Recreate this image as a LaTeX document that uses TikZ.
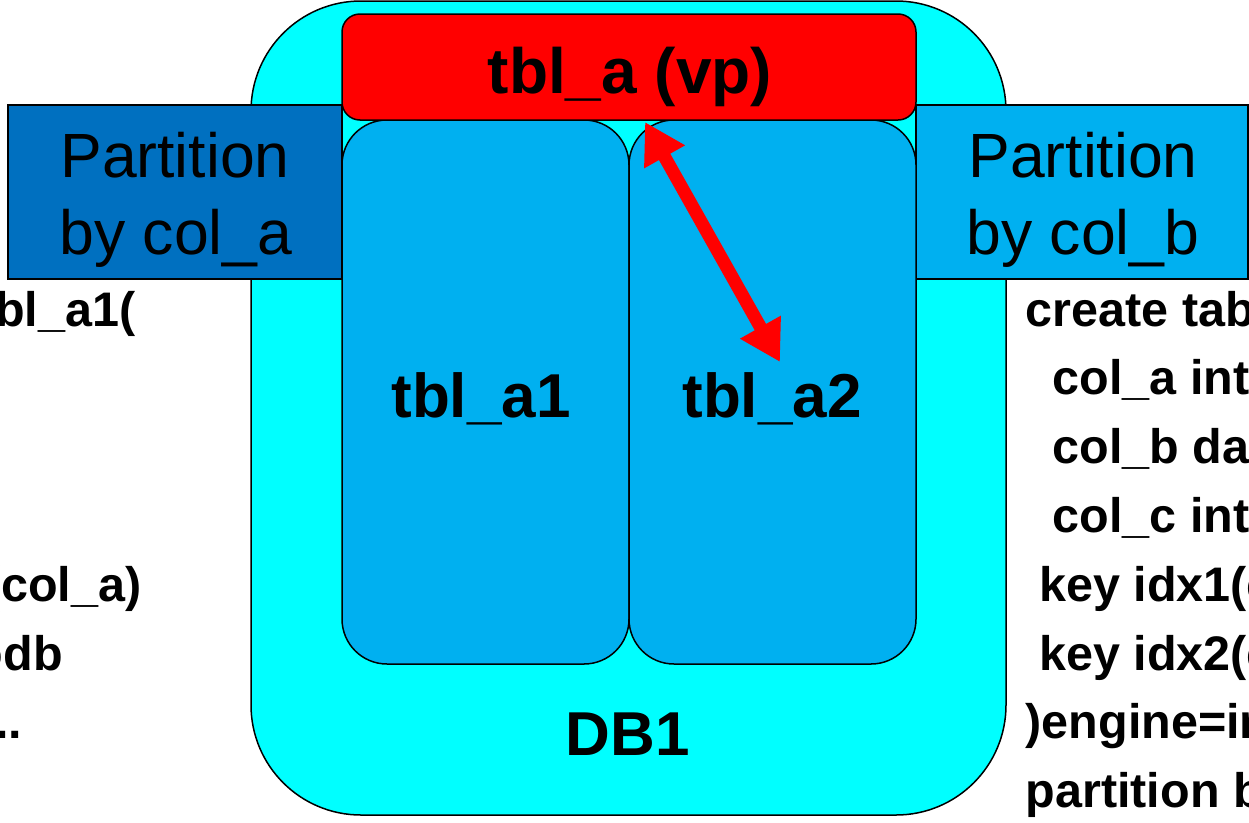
\documentclass[tikz,border=0pt]{standalone}
\usepackage{fontspec}
\setmainfont{Liberation Sans}
\usetikzlibrary{arrows.meta}
\definecolor{dbcyan}{RGB}{0,255,255}
\definecolor{tblblue}{RGB}{0,176,240}
\definecolor{darkblue}{RGB}{0,112,192}
\definecolor{vpred}{RGB}{255,0,0}
\begin{document}
\begin{tikzpicture}[x=1pt,y=-1pt,
 box/.style={draw=black, line width=1.5pt, inner sep=0pt, outer sep=0pt},
 big/.style={font=\fontsize{62.5}{74}\selectfont, inner sep=0pt, anchor=base},
 bigb/.style={font=\fontsize{62}{74}\selectfont\bfseries, inner sep=0pt, anchor=base},
 code/.style={font=\fontsize{48.5}{58}\selectfont\bfseries, inner sep=0pt, anchor=base west},
 arr/.style={draw=vpred, line width=13pt, {Triangle[length=40pt,width=44pt]}-{Triangle[length=40pt,width=44pt]}}
]
\useasboundingbox (0,0) rectangle (1249,822);
\begin{scope}
\clip (0,0) rectangle (1249,822);
% database
\node[box, fill=dbcyan, rounded corners=110pt, minimum width=755pt, minimum height=814pt] (db) at (628.5,408) {};
% partition boxes
\node[box, fill=darkblue, minimum width=334pt, minimum height=174pt] (pa) at (175,192) {};
\node[box, fill=tblblue, minimum width=332pt, minimum height=174pt] (pb) at (1082,192) {};
% tables
\node[box, fill=tblblue, rounded corners=45pt, minimum width=287pt, minimum height=544pt] (t1) at (485.5,392) {};
\node[box, fill=tblblue, rounded corners=45pt, minimum width=287pt, minimum height=544pt] (t2) at (772.5,392) {};
\node[box, fill=vpred, rounded corners=18pt, minimum width=574pt, minimum height=106pt] (vp) at (629,67) {};
% labels
\node[bigb, font=\fontsize{64}{74}\selectfont\bfseries] (vpl) at (630,93) {tbl\_a (vp)};
\node[bigb] (t1l) at (481,417) {tbl\_a1};
\node[bigb] (t2l) at (772,417) {tbl\_a2};
\node[bigb] (dbl) at (628,755) {DB1};
\node[big] (pa1) at (175,177) {Partition};
\node[big] (pa2) at (176,254) {by col\_a};
\node[big] (pb1) at (1083,177) {Partition};
\node[big] (pb2) at (1083,254) {by col\_b};
% left code
\node[code] (l1) at (-304,326) {create table tbl\_a1(};
\node[code] (l5) at (-301,601.2) {\ primary key(col\_a)};
\node[code] (l6) at (-300,670) {)engine=innodb};
\node[code] (l7) at (-296,738.8) {partition by ...};
% right code
\node[code] (r1) at (1025.5,326) {create table tbl\_a2(};
\node[code] (r2) at (1025.5,394.8) {\ \ col\_a int,};
\node[code] (r3) at (1025.5,463.6) {\ \ col\_b date,};
\node[code] (r4) at (1025.5,532.4) {\ \ col\_c int,};
\node[code] (r5) at (1025.5,601.2) {\ key idx1(col\_a),};
\node[code] (r6) at (1025.5,670) {\ key idx2(col\_b)};
\node[code] (r7) at (1025.5,738.8) {)engine=innodb};
\node[code] (r8) at (1025.5,807.6) {partition by ...};
% arrow
\coordinate (ap) at (645,122);
\coordinate (aq) at (780,362);
\draw[arr] (ap) -- (aq);
\end{scope}
\end{tikzpicture}
\end{document}
